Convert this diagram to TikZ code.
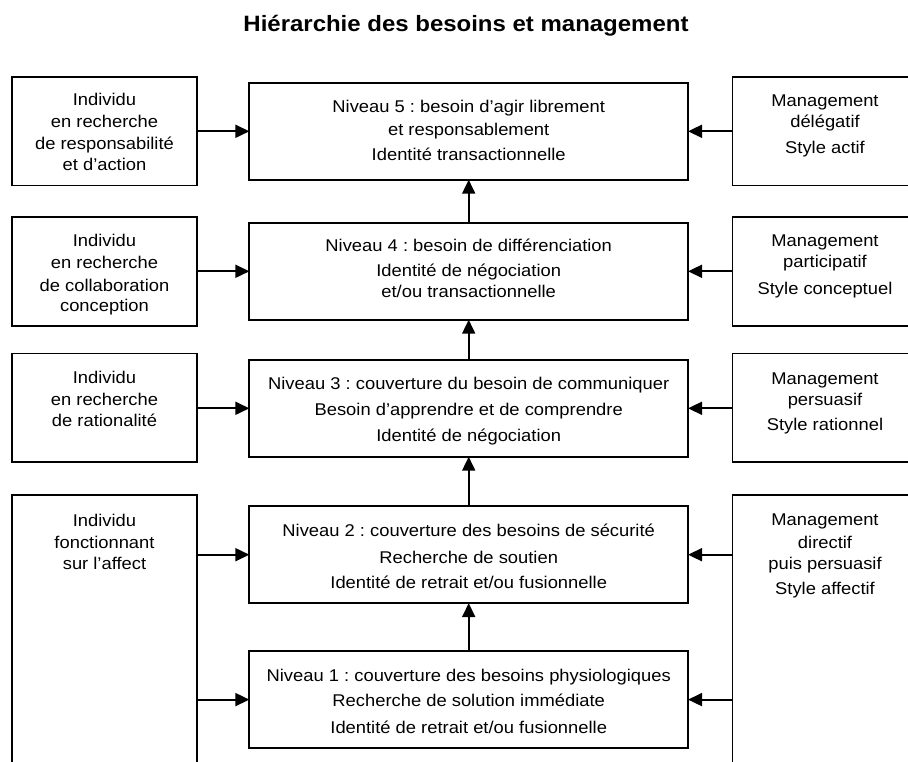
\documentclass[tikz,border=0pt]{standalone}
\usepackage{fontspec}
\setmainfont[FakeStretch=1.08]{Liberation Sans}
\usetikzlibrary{arrows.meta}
\frenchspacing
\newcommand\boxlines[3]{%
  \foreach \yy/\tx [count=\k] in {#3} {\node[lbl] (#1-\k) at (#2,\yy) {\tx};}}
\begin{document}
\begin{tikzpicture}[x=1pt,y=-1pt,
  box/.style={draw=black,line width=1.8pt,rectangle,inner sep=0pt,outer sep=0pt},
  cbox/.style={box,minimum width=438.7pt,minimum height=96.8pt},
  sbox/.style={box,minimum width=185pt,minimum height=108.6pt},
  lbl/.style={anchor=base,inner sep=0pt,font=\fontsize{17}{20}\selectfont},
  arr/.style={line width=1.8pt,-{Triangle[length=14pt,width=13pt]}}]
\useasboundingbox (0,0) rectangle (908,762);
\clip (0,0) rectangle (908,762);
% title
\node[anchor=base,inner sep=0pt,font=\fontsize{22.2}{26}\selectfont\bfseries] (title) at (466,31.7) {Hiérarchie des besoins et management};
% centre boxes
\node[cbox] (c5) at (468.7,131.3) {};
\node[cbox] (c4) at (468.7,271.3) {};
\node[cbox] (c3) at (468.7,408.3) {};
\node[cbox] (c2) at (468.7,554.7) {};
\node[cbox] (c1) at (468.7,699.6) {};
% left boxes
\node[sbox] (l5) at (104.5,131.3) {};
\node[sbox] (l4) at (104.5,271.3) {};
\node[sbox] (l3) at (104.5,407.8) {};
\node[box,minimum width=185pt,minimum height=320pt] (l2) at (104.5,655) {};
% right boxes
\node[sbox] (r5) at (825,131.3) {};
\node[sbox] (r4) at (825,271.3) {};
\node[sbox] (r3) at (825,407.8) {};
\node[box,minimum width=185pt,minimum height=320pt] (r2) at (825,655) {};
% texts
\boxlines{t5}{468.7}{112.3/{Niveau 5 : besoin d’agir librement},135.7/{et responsablement},160.7/{Identité transactionnelle}}
\boxlines{t4}{468.7}{252/{Niveau 4 : besoin de différenciation},276.3/{Identité de négociation},298/{et/ou transactionnelle}}
\boxlines{t3}{468.7}{389.3/{Niveau 3 : couverture du besoin de communiquer},415.3/{Besoin d’apprendre et de comprendre},441.3/{Identité de négociation}}
\boxlines{t2}{468.7}{536.3/{Niveau 2 : couverture des besoins de sécurité},563/{Recherche de soutien},588/{Identité de retrait et/ou fusionnelle}}
\boxlines{t1}{468.7}{681.3/{Niveau 1 : couverture des besoins physiologiques},706.3/{Recherche de solution immédiate},733/{Identité de retrait et/ou fusionnelle}}
\boxlines{tl5}{104.5}{106/{Individu},128/{en recherche},149.7/{de responsabilité},170.7/{et d’action}}
\boxlines{tl4}{104.5}{247/{Individu},269/{en recherche},291/{de collaboration},312/{conception}}
\boxlines{tl3}{104.5}{383/{Individu},405.3/{en recherche},426.3/{de rationalité}}
\boxlines{tl2}{104.5}{526.3/{Individu},548/{fonctionnant},569/{sur l’affect}}
\boxlines{tr5}{825}{106.3/{Management},128/{délégatif},154/{Style actif}}
\boxlines{tr4}{825}{246.3/{Management},268/{participatif},294.7/{Style conceptuel}}
\boxlines{tr3}{825}{384/{Management},405.7/{persuasif},430.7/{Style rationnel}}
\boxlines{tr2}{825}{525.7/{Management},548/{directif},569.7/{puis persuasif},594.7/{Style affectif}}
% vertical arrows
\draw[arr] (c4.north) -- (c5.south);
\draw[arr] (c3.north) -- (c4.south);
\draw[arr] (c2.north) -- (c3.south);
\draw[arr] (c1.north) -- (c2.south);
% left arrows
\draw[arr] (l5.east) -- (c5.west);
\draw[arr] (l4.east) -- (c4.west);
\draw[arr] (l3.east |- c3.west) -- (c3.west);
\draw[arr] (l2.east |- c2.west) -- (c2.west);
\draw[arr] (l2.east |- c1.west) -- (c1.west);
% right arrows
\draw[arr] (r5.west) -- (c5.east);
\draw[arr] (r4.west) -- (c4.east);
\draw[arr] (r3.west |- c3.east) -- (c3.east);
\draw[arr] (r2.west |- c2.east) -- (c2.east);
\draw[arr] (r2.west |- c1.east) -- (c1.east);
\end{tikzpicture}
\end{document}
